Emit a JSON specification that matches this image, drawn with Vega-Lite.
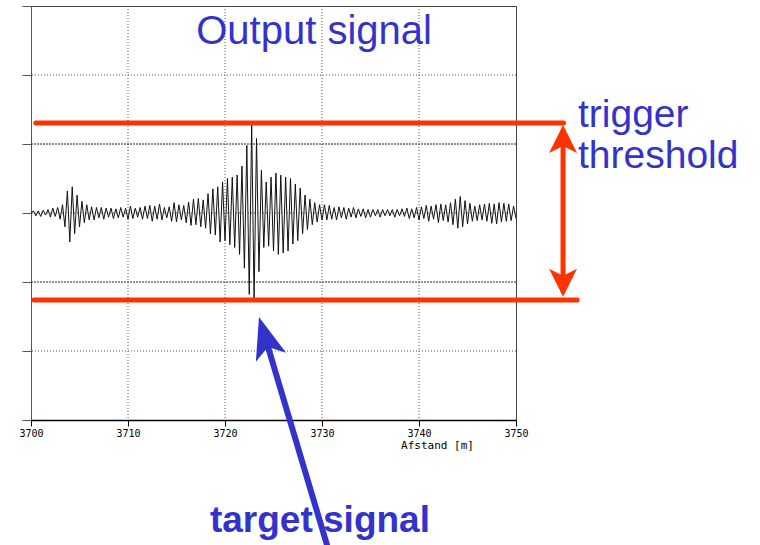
{
  "$schema": "https://vega.github.io/schema/vega-lite/v6.json",
  "width": 485,
  "height": 414,
  "autosize": {"type": "none"},
  "padding": {"left": 31, "top": 6, "right": 244, "bottom": 125},
  "background": "white",
  "config": {"view": {"stroke": "#444", "strokeWidth": 1}},
  "datasets": {
    "signal": [
      {"x":3700,"y":0},{"x":3700.25,"y":0.03},{"x":3700.5,"y":-0.04},{"x":3700.75,"y":0.03},
      {"x":3701,"y":-0.05},{"x":3701.25,"y":0.04},{"x":3701.5,"y":-0.03},{"x":3701.75,"y":0.05},
      {"x":3702,"y":-0.06},{"x":3702.25,"y":0.07},{"x":3702.5,"y":-0.05},{"x":3702.75,"y":0.08},
      {"x":3703,"y":-0.09},{"x":3703.25,"y":0.12},{"x":3703.5,"y":-0.2},{"x":3703.75,"y":0.32},
      {"x":3704,"y":-0.42},{"x":3704.25,"y":0.38},{"x":3704.5,"y":-0.3},{"x":3704.75,"y":0.26},
      {"x":3705,"y":-0.2},{"x":3705.25,"y":0.17},{"x":3705.5,"y":-0.14},{"x":3705.75,"y":0.12},
      {"x":3706,"y":-0.1},{"x":3706.25,"y":0.09},{"x":3706.5,"y":-0.1},{"x":3706.75,"y":0.08},
      {"x":3707,"y":-0.07},{"x":3707.25,"y":0.08},{"x":3707.5,"y":-0.09},{"x":3707.75,"y":0.07},
      {"x":3708,"y":-0.06},{"x":3708.25,"y":0.07},{"x":3708.5,"y":-0.08},{"x":3708.75,"y":0.06},
      {"x":3709,"y":-0.07},{"x":3709.25,"y":0.08},{"x":3709.5,"y":-0.06},{"x":3709.75,"y":0.07},
      {"x":3710,"y":-0.09},{"x":3710.25,"y":0.1},{"x":3710.5,"y":-0.08},{"x":3710.75,"y":0.07},
      {"x":3711,"y":-0.06},{"x":3711.25,"y":0.08},{"x":3711.5,"y":-0.09},{"x":3711.75,"y":0.1},
      {"x":3712,"y":-0.08},{"x":3712.25,"y":0.11},{"x":3712.5,"y":-0.12},{"x":3712.75,"y":0.1},
      {"x":3713,"y":-0.09},{"x":3713.25,"y":0.13},{"x":3713.5,"y":-0.1},{"x":3713.75,"y":0.08},
      {"x":3714,"y":-0.07},{"x":3714.25,"y":0.09},{"x":3714.5,"y":-0.12},{"x":3714.75,"y":0.15},
      {"x":3715,"y":-0.13},{"x":3715.25,"y":0.12},{"x":3715.5,"y":-0.1},{"x":3715.75,"y":0.11},
      {"x":3716,"y":-0.14},{"x":3716.25,"y":0.16},{"x":3716.5,"y":-0.18},{"x":3716.75,"y":0.2},
      {"x":3717,"y":-0.17},{"x":3717.25,"y":0.21},{"x":3717.5,"y":-0.2},{"x":3717.75,"y":0.19},
      {"x":3718,"y":-0.22},{"x":3718.25,"y":0.28},{"x":3718.5,"y":-0.3},{"x":3718.75,"y":0.35},
      {"x":3719,"y":-0.32},{"x":3719.25,"y":0.38},{"x":3719.5,"y":-0.42},{"x":3719.75,"y":0.45},
      {"x":3720,"y":-0.4},{"x":3720.25,"y":0.5},{"x":3720.5,"y":-0.46},{"x":3720.75,"y":0.52},
      {"x":3721,"y":-0.5},{"x":3721.25,"y":0.55},{"x":3721.5,"y":-0.6},{"x":3721.75,"y":0.68},
      {"x":3722,"y":-0.8},{"x":3722.25,"y":0.98},{"x":3722.5,"y":-1.18},{"x":3722.75,"y":1.28},
      {"x":3723,"y":-1.26},{"x":3723.25,"y":1.08},{"x":3723.5,"y":-0.85},{"x":3723.75,"y":0.62},
      {"x":3724,"y":-0.5},{"x":3724.25,"y":0.45},{"x":3724.5,"y":-0.48},{"x":3724.75,"y":0.52},
      {"x":3725,"y":-0.55},{"x":3725.25,"y":0.58},{"x":3725.5,"y":-0.6},{"x":3725.75,"y":0.55},
      {"x":3726,"y":-0.58},{"x":3726.25,"y":0.52},{"x":3726.5,"y":-0.55},{"x":3726.75,"y":0.5},
      {"x":3727,"y":-0.45},{"x":3727.25,"y":0.42},{"x":3727.5,"y":-0.4},{"x":3727.75,"y":0.36},
      {"x":3728,"y":-0.3},{"x":3728.25,"y":0.26},{"x":3728.5,"y":-0.24},{"x":3728.75,"y":0.2},
      {"x":3729,"y":-0.17},{"x":3729.25,"y":0.15},{"x":3729.5,"y":-0.13},{"x":3729.75,"y":0.12},
      {"x":3730,"y":-0.1},{"x":3730.25,"y":0.12},{"x":3730.5,"y":-0.1},{"x":3730.75,"y":0.11},
      {"x":3731,"y":-0.09},{"x":3731.25,"y":0.08},{"x":3731.5,"y":-0.1},{"x":3731.75,"y":0.09},
      {"x":3732,"y":-0.07},{"x":3732.25,"y":0.08},{"x":3732.5,"y":-0.09},{"x":3732.75,"y":0.07},
      {"x":3733,"y":-0.06},{"x":3733.25,"y":0.08},{"x":3733.5,"y":-0.07},{"x":3733.75,"y":0.06},
      {"x":3734,"y":-0.05},{"x":3734.25,"y":0.06},{"x":3734.5,"y":-0.07},{"x":3734.75,"y":0.05},
      {"x":3735,"y":-0.06},{"x":3735.25,"y":0.05},{"x":3735.5,"y":-0.04},{"x":3735.75,"y":0.05},
      {"x":3736,"y":-0.06},{"x":3736.25,"y":0.05},{"x":3736.5,"y":-0.04},{"x":3736.75,"y":0.05},
      {"x":3737,"y":-0.04},{"x":3737.25,"y":0.05},{"x":3737.5,"y":-0.06},{"x":3737.75,"y":0.05},
      {"x":3738,"y":-0.04},{"x":3738.25,"y":0.06},{"x":3738.5,"y":-0.05},{"x":3738.75,"y":0.07},
      {"x":3739,"y":-0.08},{"x":3739.25,"y":0.06},{"x":3739.5,"y":-0.07},{"x":3739.75,"y":0.08},
      {"x":3740,"y":-0.1},{"x":3740.25,"y":0.09},{"x":3740.5,"y":-0.08},{"x":3740.75,"y":0.11},
      {"x":3741,"y":-0.12},{"x":3741.25,"y":0.1},{"x":3741.5,"y":-0.09},{"x":3741.75,"y":0.12},
      {"x":3742,"y":-0.14},{"x":3742.25,"y":0.13},{"x":3742.5,"y":-0.11},{"x":3742.75,"y":0.12},
      {"x":3743,"y":-0.13},{"x":3743.25,"y":0.15},{"x":3743.5,"y":-0.17},{"x":3743.75,"y":0.2},
      {"x":3744,"y":-0.22},{"x":3744.25,"y":0.24},{"x":3744.5,"y":-0.2},{"x":3744.75,"y":0.18},
      {"x":3745,"y":-0.16},{"x":3745.25,"y":0.14},{"x":3745.5,"y":-0.12},{"x":3745.75,"y":0.1},
      {"x":3746,"y":-0.11},{"x":3746.25,"y":0.12},{"x":3746.5,"y":-0.1},{"x":3746.75,"y":0.13},
      {"x":3747,"y":-0.12},{"x":3747.25,"y":0.14},{"x":3747.5,"y":-0.15},{"x":3747.75,"y":0.13},
      {"x":3748,"y":-0.16},{"x":3748.25,"y":0.15},{"x":3748.5,"y":-0.13},{"x":3748.75,"y":0.14},
      {"x":3749,"y":-0.12},{"x":3749.25,"y":0.13},{"x":3749.5,"y":-0.11},{"x":3749.75,"y":0.1},
      {"x":3750,"y":-0.08}
    ]
  },
  "layer": [
    {
      "data": {"values": [{"x": 3710}, {"x": 3720}, {"x": 3730}, {"x": 3740}]},
      "mark": {"type": "rule", "color": "#555", "strokeWidth": 1, "strokeDash": [1, 2]},
      "encoding": {"x": {"field": "x", "type": "quantitative"}}
    },
    {
      "data": {"values": [{"y": 2}, {"y": -2}, {"y": 0}]},
      "mark": {"type": "rule", "color": "#555", "strokeWidth": 1, "strokeDash": [1, 2]},
      "encoding": {"y": {"field": "y", "type": "quantitative"}}
    },
    {
      "data": {"values": [{"y": 1}, {"y": -1}]},
      "mark": {"type": "rule", "color": "#222", "strokeWidth": 1, "strokeDash": [2, 1]},
      "encoding": {"y": {"field": "y", "type": "quantitative"}}
    },
    {
      "data": {"name": "signal"},
      "mark": {"type": "line", "color": "#111", "strokeWidth": 1},
      "encoding": {
        "x": {
          "field": "x", "type": "quantitative",
          "scale": {"domain": [3700, 3750], "nice": false, "zero": false},
          "axis": {
            "values": [3700, 3710, 3720, 3730, 3740, 3750], "format": "d",
            "grid": false, "tickSize": 6, "tickColor": "#000", "domainColor": "#000", "domainWidth": 1.5,
            "labelFont": "DejaVu Sans Mono", "labelFontSize": 10, "labelColor": "#000", "labelPadding": 2,
            "labelFlush": false, "labelOverlap": false,
            "title": "Afstand [m]", "titleFont": "DejaVu Sans Mono", "titleFontSize": 11, "titleFontWeight": "normal",
            "titleColor": "#000", "titleX": 406, "titleY": 28, "titleAlign": "center", "titleBaseline": "alphabetic", "titleAnchor": null
          }
        },
        "y": {
          "field": "y", "type": "quantitative",
          "scale": {"domain": [-3, 3], "nice": false, "zero": false},
          "axis": {
            "values": [-3, -2, -1, 0, 1, 2, 3], "labels": false, "grid": false,
            "tickSize": 9, "tickColor": "#555", "domainColor": "#555", "title": null
          }
        }
      }
    },
    {
      "data": {"values": [{"x": 3700.5, "x2": 3754.9, "y": 1.304}, {"x": 3700.3, "x2": 3756.3, "y": -1.26}]},
      "mark": {"type": "rule", "color": "#FF3300", "strokeWidth": 5, "strokeCap": "round"},
      "encoding": {
        "x": {"field": "x", "type": "quantitative"},
        "x2": {"field": "x2"},
        "y": {"field": "y", "type": "quantitative"}
      }
    },
    {
      "data": {"values": [{"x": 3754.85, "y": 1.2, "y2": -1.15}]},
      "mark": {"type": "rule", "color": "#FF3300", "strokeWidth": 5},
      "encoding": {
        "x": {"field": "x", "type": "quantitative"},
        "y": {"field": "y", "type": "quantitative"},
        "y2": {"field": "y2"}
      }
    },
    {
      "data": {"values": [{"x": 3754.85, "y": 1.072}]},
      "mark": {"type": "point", "shape": "M0,-1L1,1L0,0.5L-1,1Z", "filled": true, "color": "#FF3300", "opacity": 1, "size": 784, "angle": 0},
      "encoding": {
        "x": {"field": "x", "type": "quantitative"},
        "y": {"field": "y", "type": "quantitative"}
      }
    },
    {
      "data": {"values": [{"x": 3754.85, "y": -1.01}]},
      "mark": {"type": "point", "shape": "M0,-1L1,1L0,0.5L-1,1Z", "filled": true, "color": "#FF3300", "opacity": 1, "size": 784, "angle": 180},
      "encoding": {
        "x": {"field": "x", "type": "quantitative"},
        "y": {"field": "y", "type": "quantitative"}
      }
    },
    {
      "data": {"values": [{"x": 3724.2, "y": -1.83, "x2": 3730.67, "y2": -4.884}]},
      "mark": {"type": "rule", "color": "#3333CC", "strokeWidth": 6},
      "encoding": {
        "x": {"field": "x", "type": "quantitative"},
        "y": {"field": "y", "type": "quantitative"},
        "x2": {"field": "x2"},
        "y2": {"field": "y2"}
      }
    },
    {
      "data": {"values": [{"x": 3724.12, "y": -1.798}]},
      "mark": {"type": "point", "shape": "M0,-1L0.75,1L0,0.5L-0.75,1Z", "filled": true, "color": "#3333CC", "opacity": 1, "size": 1764, "angle": 343.4},
      "encoding": {
        "x": {"field": "x", "type": "quantitative"},
        "y": {"field": "y", "type": "quantitative"}
      }
    },
    {
      "data": {"values": [{"label": "Output signal", "x": 3729.18, "y": 2.449}]},
      "mark": {"type": "text", "font": "Liberation Sans", "fontSize": 40, "color": "#3333CC", "align": "center", "baseline": "alphabetic"},
      "encoding": {
        "x": {"field": "x", "type": "quantitative"},
        "y": {"field": "y", "type": "quantitative"},
        "text": {"field": "label"}
      }
    },
    {
      "data": {"values": [{"label": "trigger", "x": 3756.39, "y": 1.246}, {"label": "threshold", "x": 3756.39, "y": 0.652}]},
      "mark": {"type": "text", "font": "Liberation Sans", "fontSize": 39, "color": "#3333CC", "align": "left", "baseline": "alphabetic"},
      "encoding": {
        "x": {"field": "x", "type": "quantitative"},
        "y": {"field": "y", "type": "quantitative"},
        "text": {"field": "label"}
      }
    },
    {
      "data": {"values": [{"label": "target signal", "x": 3718.45, "y": -4.623}]},
      "mark": {"type": "text", "font": "Liberation Sans", "fontSize": 37, "fontWeight": "bold", "color": "#3333CC", "align": "left", "baseline": "alphabetic"},
      "encoding": {
        "x": {"field": "x", "type": "quantitative"},
        "y": {"field": "y", "type": "quantitative"},
        "text": {"field": "label"}
      }
    }
  ]
}
